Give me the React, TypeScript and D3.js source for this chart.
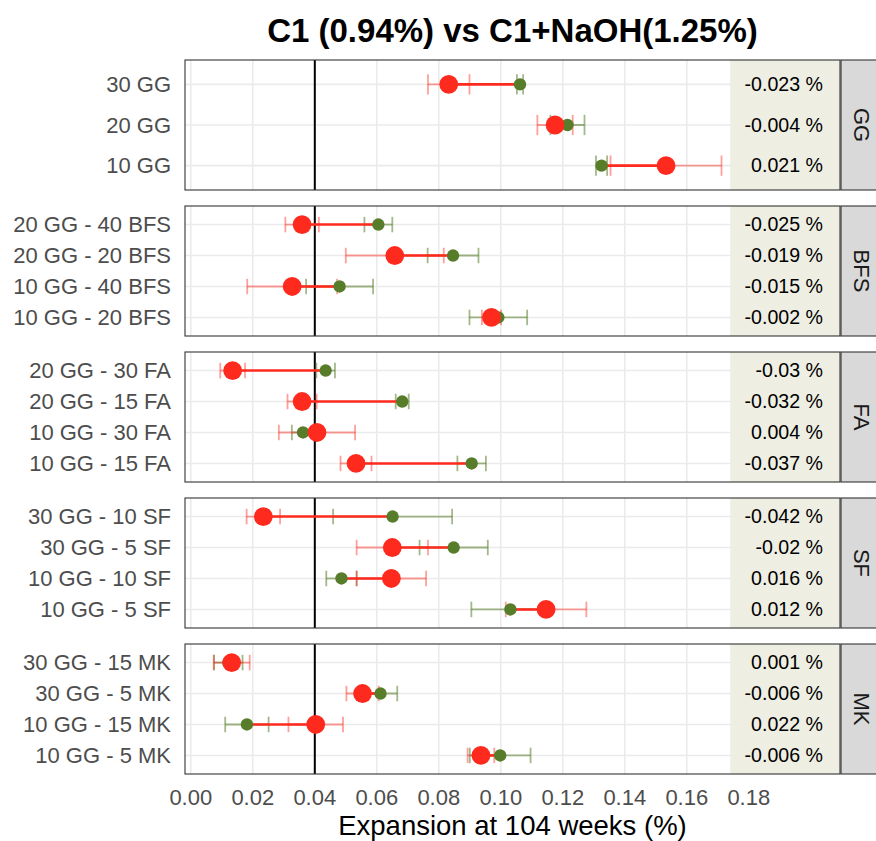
import * as d3 from 'd3';

// facets, rows and values
const facets = ['GG', 'BFS', 'FA', 'SF', 'MK'];

const rowLabels = [
  '30 GG', '20 GG', '10 GG',
  '20 GG - 40 BFS', '20 GG - 20 BFS', '10 GG - 40 BFS', '10 GG - 20 BFS',
  '20 GG - 30 FA', '20 GG - 15 FA', '10 GG - 30 FA', '10 GG - 15 FA',
  '30 GG - 10 SF', '30 GG - 5 SF', '10 GG - 10 SF', '10 GG - 5 SF',
  '30 GG - 15 MK', '30 GG - 5 MK', '10 GG - 15 MK', '10 GG - 5 MK',
];
const rowFacet = [
  'GG', 'GG', 'GG',
  'BFS', 'BFS', 'BFS', 'BFS',
  'FA', 'FA', 'FA', 'FA',
  'SF', 'SF', 'SF', 'SF',
  'MK', 'MK', 'MK', 'MK',
];

// C1+NaOH (red)
const naohMean = [
  0.0832, 0.1175, 0.1533,
  0.0359, 0.0658, 0.0327, 0.0970,
  0.0135, 0.0359, 0.0407, 0.0533,
  0.0234, 0.0650, 0.0647, 0.1146,
  0.0132, 0.0554, 0.0403, 0.0936,
];
const naohSd = [
  0.0067, 0.0057, 0.0179,
  0.0054, 0.0158, 0.0145, 0.0031,
  0.0040, 0.0047, 0.0123, 0.0050,
  0.0054, 0.0115, 0.0112, 0.0130,
  0.0058, 0.0052, 0.0088, 0.0043,
];
// C1 (green)
const c1Mean = [
  0.1062, 0.1215, 0.1325,
  0.0605, 0.0846, 0.0480, 0.0992,
  0.0435, 0.0682, 0.0362, 0.0906,
  0.0651, 0.0848, 0.0486, 0.1031,
  0.0121, 0.0612, 0.0181, 0.0998,
];
const c1Sd = [
  0.0010, 0.0055, 0.0018,
  0.0045, 0.0082, 0.0108, 0.0093,
  0.0030, 0.0021, 0.0036, 0.0046,
  0.0192, 0.0110, 0.0049, 0.0126,
  0.0046, 0.0054, 0.0070, 0.0098,
];
const diffLabels = [
  '-0.023 %', '-0.004 %', '0.021 %',
  '-0.025 %', '-0.019 %', '-0.015 %', '-0.002 %',
  '-0.03 %', '-0.032 %', '0.004 %', '-0.037 %',
  '-0.042 %', '-0.02 %', '0.016 %', '0.012 %',
  '0.001 %', '-0.006 %', '0.022 %', '-0.006 %',
];
const xTicks = [0, 0.02, 0.04, 0.06, 0.08, 0.1, 0.12, 0.14, 0.16, 0.18];
const refLine = 0.04;
const noteStart = 0.174;

const RED = '#FF2A1E';
const GREEN = '#587D2A';
const FONT = '"Liberation Sans", Arial, Helvetica, sans-serif';

const W = 876;
const H = 841;
const panelLeft = 185;
const panelRight = 840;
const stripW = 43;

const x = d3.scaleLinear().domain([0, 0.18]).range([190.8, 748.8]);
const fy = d3.scaleBand<string>().domain(facets).range([60, 774]).paddingInner(16 / 146).paddingOuter(0);

const App = () => {
  const rows = rowLabels.map((label, i) => ({
    label,
    facet: rowFacet[i],
    naoh: naohMean[i],
    naohSd: naohSd[i],
    c1: c1Mean[i],
    c1Sd: c1Sd[i],
    note: diffLabels[i],
  }));

  return (
    <svg width={W} height={H} style={{ position: 'absolute', left: 0, top: 0, background: '#fff' }} fontFamily={FONT}>
      <text x={(panelLeft + panelRight) / 2} y={42} textAnchor="middle" fontSize={33} fontWeight="bold" fill="#000">
        C1 (0.94%) vs C1+NaOH(1.25%)
      </text>

      {facets.map(f => {
        const top = fy(f)!;
        const bh = fy.bandwidth();
        const fr = rows.filter(r => r.facet === f);
        const y = d3.scalePoint<string>().domain(fr.map(r => r.label)).range([top, top + bh]).padding(0.6);
        const cap = y.step() * 0.25;
        return (
          <g key={f}>
            <rect x={panelLeft} y={top} width={panelRight - panelLeft} height={bh} fill="#fff" />
            {xTicks.map(t => (
              <line key={t} x1={x(t)} x2={x(t)} y1={top} y2={top + bh} stroke="#EBEBEB" strokeWidth={1.6} />
            ))}
            {fr.map(r => (
              <line key={r.label} x1={panelLeft} x2={panelRight} y1={y(r.label)} y2={y(r.label)} stroke="#EBEBEB" strokeWidth={1.6} />
            ))}
            <line x1={x(refLine)} x2={x(refLine)} y1={top} y2={top + bh} stroke="#000" strokeWidth={2} />
            <rect x={x(noteStart)} y={top} width={panelRight - x(noteStart)} height={bh} fill="#EEEEE3" />

            {fr.map(r => {
              const cy = y(r.label)!;
              const bars = [
                { m: r.c1, s: r.c1Sd, c: GREEN, o: 0.55 },
                { m: r.naoh, s: r.naohSd, c: RED, o: 0.45 },
              ];
              return (
                <g key={r.label}>
                  {bars.map((b, k) => (
                    <g key={k} stroke={b.c} strokeOpacity={b.o} strokeWidth={1.8}>
                      <line x1={x(b.m - b.s)} x2={x(b.m + b.s)} y1={cy} y2={cy} />
                      <line x1={x(b.m - b.s)} x2={x(b.m - b.s)} y1={cy - cap} y2={cy + cap} />
                      <line x1={x(b.m + b.s)} x2={x(b.m + b.s)} y1={cy - cap} y2={cy + cap} />
                    </g>
                  ))}
                  <line x1={x(r.naoh)} x2={x(r.c1)} y1={cy} y2={cy} stroke={RED} strokeWidth={2.6} />
                  <circle cx={x(r.c1)} cy={cy} r={6.2} fill={GREEN} />
                  <circle cx={x(r.naoh)} cy={cy} r={9.4} fill={RED} />
                  <text x={823} y={cy} dy="0.35em" textAnchor="end" fontSize={19.6} fill="#000">{r.note}</text>
                  <text x={171} y={cy} dy="0.35em" textAnchor="end" fontSize={22} fill="#4D4D4D">{r.label}</text>
                </g>
              );
            })}

            <rect x={panelLeft} y={top} width={panelRight - panelLeft} height={bh} fill="none" stroke="#333" strokeWidth={1.1} />
            <rect x={panelRight + 1} y={top} width={stripW} height={bh} fill="#D9D9D9" stroke="#333" strokeWidth={1.1} />
            <text transform={`translate(${panelRight + 22}, ${top + bh / 2}) rotate(90)`} textAnchor="middle" dy="0.35em" fontSize={22} fill="#1A1A1A">
              {f}
            </text>
          </g>
        );
      })}

      {xTicks.map(t => (
        <text key={t} x={x(t)} y={805} textAnchor="middle" fontSize={22} fill="#4D4D4D">
          {d3.format('.2f')(t)}
        </text>
      ))}
      <text x={(panelLeft + panelRight) / 2} y={835} textAnchor="middle" fontSize={27.5} fill="#000">
        Expansion at 104 weeks (%)
      </text>
    </svg>
  );
};

export default App;
